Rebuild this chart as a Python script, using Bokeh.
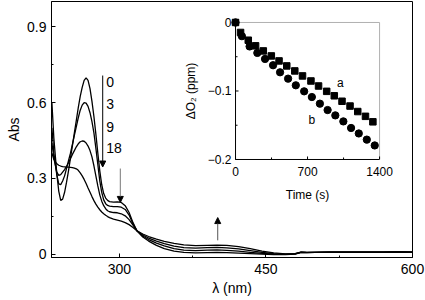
import math
from bokeh.plotting import figure
from bokeh.models import Range1d, FixedTicker, Arrow, NormalHead, CustomJSTickFormatter
from bokeh.embed import file_html
from bokeh.resources import INLINE
from bokeh.core.properties import value

FONT = "Liberation Sans"

# ---------------- data ----------------
wavelength = [231, 233, 236, 238, 240, 242, 244, 246, 248, 250, 252, 254, 256, 258, 260,
              262, 264, 266, 268, 270, 272, 274, 276, 278, 280, 282, 284, 286, 288, 290,
              294, 298, 302, 306, 310, 314, 318, 324, 330, 338, 346, 356, 366, 378, 390,
              400, 410, 422, 434, 446, 458, 470, 480, 486, 492, 500, 515, 530, 550, 570,
              585, 600]

abs_0min = [0.60, 0.46, 0.32, 0.25, 0.213, 0.218, 0.245, 0.285, 0.33, 0.38, 0.43, 0.48, 0.53, 0.58, 0.625,
            0.66, 0.688, 0.698, 0.688, 0.655, 0.605, 0.545, 0.475, 0.40, 0.33, 0.275, 0.24, 0.222, 0.213, 0.208,
            0.206, 0.207, 0.205, 0.192, 0.165, 0.125, 0.093, 0.068, 0.052, 0.035, 0.022, 0.012, 0.007, 0.005, 0.006,
            0.007, 0.006, 0.004, 0.002, 0.0, -0.002, -0.002, 0.0, 0.007, 0.006, 0.007, 0.008, 0.008, 0.008, 0.008,
            0.009, 0.008]

abs_3min = [0.50, 0.40, 0.315, 0.278, 0.275, 0.29, 0.31, 0.34, 0.37, 0.40, 0.435, 0.47, 0.505, 0.54, 0.57,
            0.59, 0.60, 0.598, 0.585, 0.56, 0.525, 0.48, 0.42, 0.355, 0.29, 0.245, 0.215, 0.20, 0.193, 0.19,
            0.188, 0.188, 0.186, 0.177, 0.155, 0.12, 0.093, 0.072, 0.058, 0.044, 0.033, 0.022, 0.016, 0.014, 0.016,
            0.017, 0.015, 0.012, 0.007, 0.003, 0.0, -0.001, 0.001, 0.007, 0.006, 0.007, 0.008, 0.008, 0.008, 0.008,
            0.009, 0.008]

abs_9min = [0.44, 0.38, 0.325, 0.312, 0.315, 0.325, 0.335, 0.348, 0.362, 0.378, 0.395, 0.41, 0.425, 0.437, 0.445,
            0.448, 0.447, 0.44, 0.428, 0.41, 0.385, 0.35, 0.31, 0.27, 0.235, 0.21, 0.192, 0.18, 0.172, 0.168,
            0.165, 0.164, 0.16, 0.152, 0.137, 0.115, 0.093, 0.076, 0.064, 0.052, 0.042, 0.032, 0.026, 0.024, 0.026,
            0.027, 0.025, 0.021, 0.014, 0.007, 0.002, 0.0, 0.002, 0.008, 0.007, 0.007, 0.008, 0.008, 0.008, 0.008,
            0.009, 0.008]

abs_18min = [0.40, 0.375, 0.358, 0.352, 0.349, 0.347, 0.346, 0.345, 0.345, 0.344, 0.343, 0.341, 0.338, 0.332, 0.322,
             0.31, 0.296, 0.28, 0.262, 0.245, 0.228, 0.212, 0.198, 0.186, 0.176, 0.167, 0.16, 0.154, 0.149, 0.145,
             0.139, 0.135, 0.131, 0.125, 0.117, 0.106, 0.093, 0.08, 0.07, 0.06, 0.051, 0.043, 0.037, 0.034, 0.035,
             0.036, 0.035, 0.03, 0.022, 0.012, 0.005, 0.001, 0.002, 0.008, 0.007, 0.007, 0.008, 0.008, 0.008, 0.008,
             0.009, 0.008]

time_labels = ["0", "3", "9", "18"]
time_label_abs = [0.681, 0.593, 0.503, 0.419]

# inset: dissolved O2 change vs time
time_a = [0, 49, 124, 195, 270, 348, 423, 498, 576, 651, 733, 807, 886, 960, 1035, 1113, 1188, 1263, 1335]
do2_a = [0, -0.0146, -0.0259, -0.0341, -0.0415, -0.0488, -0.0561, -0.0634, -0.0707, -0.078, -0.0854,
         -0.0927, -0.1005, -0.107, -0.115, -0.122, -0.130, -0.137, -0.145]
time_b = [0, 62, 137, 212, 287, 365, 433, 511, 586, 667, 742, 820, 895, 970, 1048, 1123, 1198, 1276, 1353]
do2_b = [0, -0.02, -0.035, -0.0444, -0.0532, -0.0624, -0.0727, -0.082, -0.0917, -0.1005, -0.1088,
         -0.1185, -0.1278, -0.1356, -0.1444, -0.154, -0.162, -0.171, -0.1795]

x_ticks = [300, 450, 600]
x_minor = [375, 525]
y_ticks = [0, 0.3, 0.6, 0.9]
y_minor = [0.15, 0.45, 0.75]
ix_ticks = [0, 700, 1400]
ix_tick_labels = ["0", "700", "1400"]
ix_minor = [350, 1050]
iy_ticks = [0, -0.1, -0.2]
iy_tick_labels = ["0", "\u22120.1", "\u22120.2"]
iy_minor = [-0.05, -0.15]

# ---------------- main figure ----------------
p = figure(width=425, height=300, output_backend="svg", toolbar_location=None,
           x_range=Range1d(230.6, 600), y_range=Range1d(-0.013, 1.0),
           min_border_left=51, min_border_right=13, min_border_top=1, min_border_bottom=43)
p.outline_line_color = "black"
p.outline_line_width = 1
p.grid.visible = False

for ys in (abs_0min, abs_3min, abs_9min, abs_18min):
    p.line(wavelength, ys, line_color="black", line_width=1.3)

p.xaxis.ticker = FixedTicker(ticks=x_ticks, minor_ticks=x_minor)
p.yaxis.ticker = FixedTicker(ticks=y_ticks, minor_ticks=y_minor)
p.yaxis.formatter = CustomJSTickFormatter(code="return tick == 0 ? '0' : tick.toFixed(1);")
p.xaxis.axis_label = "λ (nm)"
p.yaxis.axis_label = "Abs"
for ax in p.axis:
    ax.axis_line_color = "black"
    ax.major_tick_line_color = "black"
    ax.minor_tick_line_color = "black"
    ax.major_tick_out = 0
    ax.minor_tick_out = 0
    ax.major_tick_in = 4
    ax.minor_tick_in = 2
    ax.major_label_text_font = FONT
    ax.major_label_text_font_size = "14px"
    ax.major_label_text_color = "black"
    ax.axis_label_text_font = FONT
    ax.axis_label_text_font_size = "14px"
    ax.axis_label_text_font_style = "normal"
    ax.axis_label_text_color = "black"
p.xaxis.major_label_standoff = 6
p.xaxis.axis_label_standoff = 3
p.yaxis.major_label_standoff = 5
p.yaxis.axis_label_standoff = 2

p.text(x=[286.7] * len(time_labels), y=time_label_abs, text=time_labels,
       text_font=value(FONT), text_font_size="14px", text_color="black",
       text_align="left", text_baseline="middle")

p.add_layout(Arrow(end=NormalHead(size=6, fill_color="black", line_color="black"),
                   x_start=283, y_start=0.707, x_end=283, y_end=0.345,
                   line_color="black", line_width=1))
p.add_layout(Arrow(end=NormalHead(size=6, fill_color="black", line_color="black"),
                   x_start=301, y_start=0.339, x_end=301, y_end=0.205,
                   line_color="#777777", line_width=1))
p.add_layout(Arrow(end=NormalHead(size=6, fill_color="black", line_color="black"),
                   x_start=400.7, y_start=0.055, x_end=400.7, y_end=0.145,
                   line_color="#555555", line_width=1))

# ---------------- inset (sub-coordinates inside the main frame) ----------------
ins = p.subplot(x_source=Range1d(0, 1400), y_source=Range1d(-0.2, 0),
                x_target=Range1d(418.9, 566.3), y_target=Range1d(0.3748, 0.917))

# frame: left/bottom black axes, top/right light grey
ins.segment(x0=[0, 0], y0=[-0.2, -0.2], x1=[0, 1400], y1=[0, -0.2], line_color="black", line_width=1)
ins.segment(x0=[0, 1400], y0=[0, -0.2], x1=[1400, 1400], y1=[0, 0], line_color="#b0b0b0", line_width=1)
# ticks (inside)
ins.ray(x=ix_ticks, y=[-0.2] * len(ix_ticks), length=3, angle=math.pi / 2, length_units="screen",
        line_color="black", line_width=1)
ins.ray(x=ix_minor, y=[-0.2] * len(ix_minor), length=2, angle=math.pi / 2, length_units="screen",
        line_color="black", line_width=1)
ins.ray(x=[0] * len(iy_ticks), y=iy_ticks, length=3, angle=0, length_units="screen",
        line_color="black", line_width=1)
ins.ray(x=[0] * len(iy_minor), y=iy_minor, length=2, angle=0, length_units="screen",
        line_color="black", line_width=1)
# tick labels
ins.text(x=ix_ticks, y=[-0.2] * len(ix_ticks), text=ix_tick_labels, y_offset=8,
         text_font=value(FONT), text_font_size="12px", text_color="black",
         text_align="center", text_baseline="top")
ins.text(x=[0] * len(iy_ticks), y=iy_ticks, text=iy_tick_labels, x_offset=-4,
         text_font=value(FONT), text_font_size="12px", text_color="black",
         text_align="right", text_baseline="middle")
# axis titles
ins.text(x=[700], y=[-0.2], text=["Time (s)"], y_offset=36,
         text_font=value(FONT), text_font_size="12px", text_color="black",
         text_align="center", text_baseline="middle")
ins.text(x=[0], y=[-0.1], text=["ΔO₂ (ppm)"], x_offset=-45, angle=math.pi / 2,
         text_font=value(FONT), text_font_size="12px", text_color="black",
         text_align="center", text_baseline="middle")
# data
ins.scatter(time_a, do2_a, marker="square", size=6.5, fill_color="black", line_color="black")
ins.scatter(time_b, do2_b, marker="circle", size=7.3, fill_color="black", line_color="black")
ins.text(x=[1019, 742], y=[-0.089, -0.143], text=["a", "b"],
         text_font=value(FONT), text_font_size="12px", text_color="black",
         text_align="center", text_baseline="middle")

open("out.html", "w").write(file_html(p, INLINE))
